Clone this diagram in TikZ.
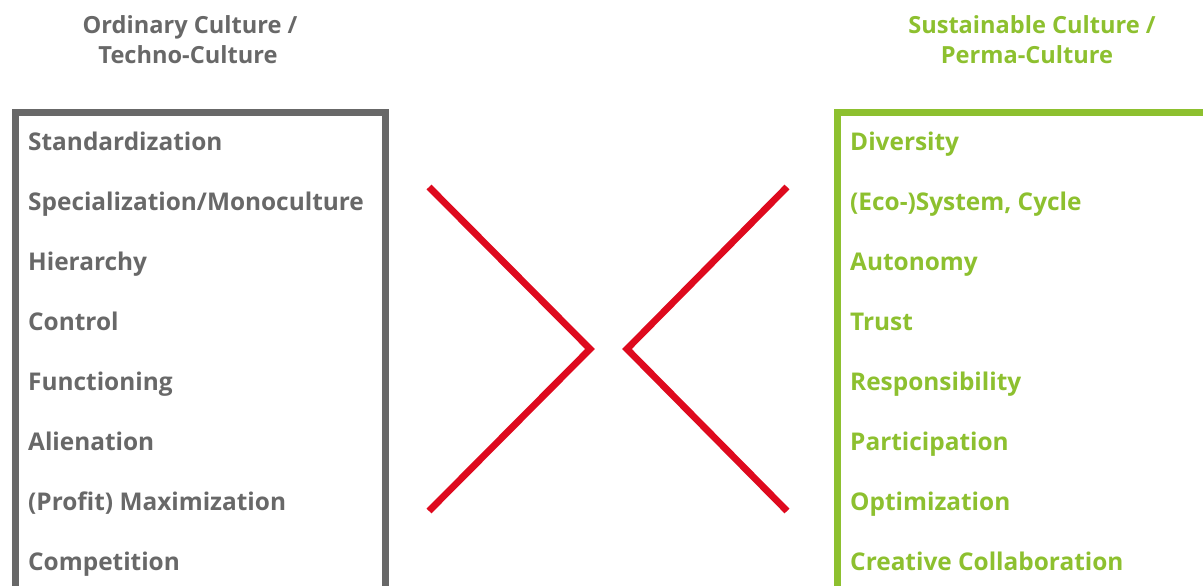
\documentclass[tikz,border=0pt]{standalone}
\usepackage{fontspec}
\setmainfont{Open Sans}
\definecolor{techgray}{RGB}{104,104,104}
\definecolor{permagreen}{RGB}{141,192,47}
\definecolor{crossred}{RGB}{222,10,30}
\begin{document}
\begin{tikzpicture}[x=1pt,y=-1pt,
  item/.style={anchor=base west,inner sep=0pt,font=\fontsize{24.4}{30}\selectfont\bfseries},
  head/.style={anchor=base,inner sep=0pt,font=\fontsize{23.6}{30}\selectfont\bfseries},
  frame/.style={line width=7pt},
  chevron/.style={draw=crossred,line width=6.8pt,line join=miter}]
\useasboundingbox (0,0) rectangle (1203,586);
\begin{scope}
\clip (0,0) rectangle (1203,586);
% column frames
\draw[frame,techgray] (15.5,112.5) rectangle (385.5,589);
\draw[frame,permagreen] (837.5,112.5) rectangle (1215,589);
\end{scope}
% headings
\node[head,text=techgray] (lh1) at (190,34) {Ordinary Culture /};
\node[head,text=techgray] (lh2) at (188,64) {Techno-Culture};
\node[head,text=permagreen] (rh1) at (1032,34) {Sustainable Culture /};
\node[head,text=permagreen] (rh2) at (1027,64) {Perma-Culture};
% left column
\begin{scope}[every node/.style={item,text=techgray}]
\node (l1) at (28,150) {Standardization};
\node (l2) at (28,210) {Specialization/Monoculture};
\node (l3) at (28,270) {Hierarchy};
\node (l4) at (28,330) {Control};
\node (l5) at (28,390) {Functioning};
\node (l6) at (28,450) {Alienation};
\node (l7) at (28,510) {(Profit) Maximization};
\node (l8) at (28,570) {Competition};
\end{scope}
% right column
\begin{scope}[every node/.style={item,text=permagreen}]
\node (r1) at (850,150) {Diversity};
\node (r2) at (850,210) {(Eco-)System, Cycle};
\node (r3) at (850,270) {Autonomy};
\node (r4) at (850,330) {Trust};
\node (r5) at (850,390) {Responsibility};
\node (r6) at (850,450) {Participation};
\node (r7) at (850,510) {Optimization};
\node (r8) at (850,570) {Creative Collaboration};
\end{scope}
% opposing chevrons
\coordinate (a1) at (429,187);
\coordinate (a2) at (590,349);
\coordinate (a3) at (429,511);
\coordinate (b1) at (787,187);
\coordinate (b2) at (627,349);
\coordinate (b3) at (787,511);
\draw[chevron] (a1) -- (a2) -- (a3);
\draw[chevron] (b1) -- (b2) -- (b3);
\end{tikzpicture}
\end{document}
